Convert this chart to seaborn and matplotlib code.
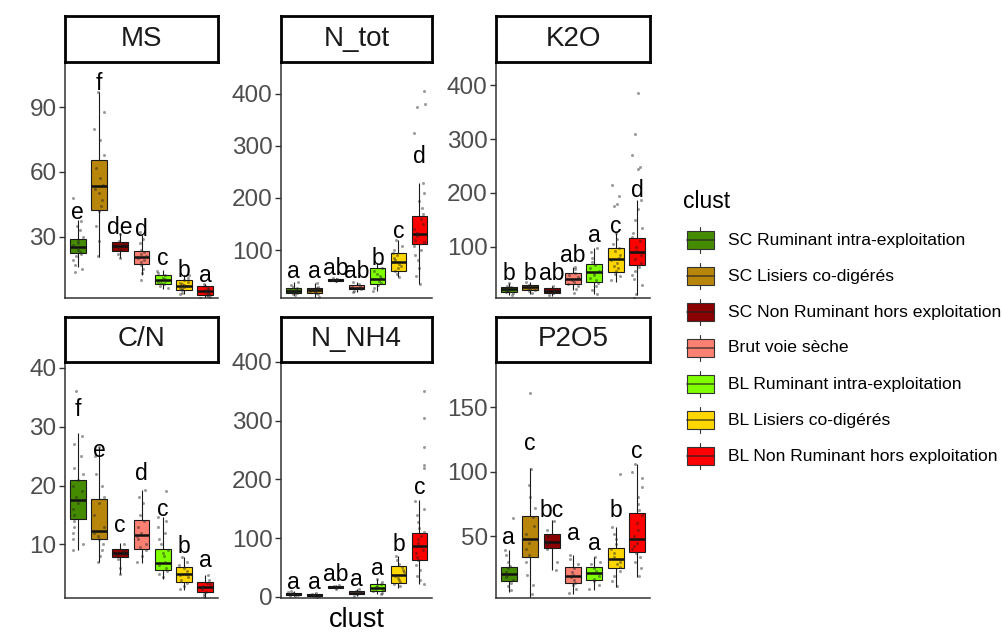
import numpy as np
import pandas as pd
import matplotlib
matplotlib.use("Agg")
import matplotlib.pyplot as plt
from matplotlib.patches import Rectangle
import seaborn as sns

sns.set_theme(style="white")
plt.rcParams['font.family'] = ['Liberation Sans', 'DejaVu Sans']

clusters = ["SC Ruminant intra-exploitation", "SC Lisiers co-digérés",
            "SC Non Ruminant hors exploitation", "Brut voie sèche",
            "BL Ruminant intra-exploitation", "BL Lisiers co-digérés",
            "BL Non Ruminant hors exploitation"]
colors = ["#458B00", "#B8860B", "#8B0000", "#FA8072", "#7FFF00", "#FFD700", "#FF0000"]

variables = ["MS", "N_tot", "K2O", "C/N", "N_NH4", "P2O5"]

# box summaries per group: [low whisker, q1, median, q3, high whisker]
MS_box = [[16, 22.2, 25.3, 28.7, 37.8], [20.6, 42.2, 53.4, 65.4, 97], [20, 23.5, 25.6, 27.7, 31.5],
          [12, 17.5, 20.6, 23.5, 30.8], [5.8, 7.9, 9.8, 12, 14.4], [3.5, 5, 7.1, 9.7, 12],
          [1.5, 2.7, 4.6, 6.9, 8]]
NTOT_box = [[13, 17, 22, 28, 38], [7, 17, 23, 28, 36], [39, 41, 43, 44, 46], [20, 24.5, 28, 32.6, 38],
            [22, 35.8, 45, 64.7, 75], [49, 60, 77.5, 93.6, 119], [35, 111, 130, 165, 228]]
K2O_box = [[10, 16.5, 21, 26, 32], [12, 20, 24.5, 29, 35], [9, 13.4, 18, 22.7, 27],
           [20, 30.7, 41, 50.5, 63], [13, 35, 53.6, 69, 97], [35, 53.6, 78, 97, 125],
           [10, 66, 90.7, 115.5, 186.6]]
CN_box = [[9, 14.4, 17.6, 21, 29], [7, 11, 12.2, 17.8, 26.6], [5, 7.8, 8.5, 9.3, 10.2],
          [6.8, 9.3, 11.6, 14.1, 19.3], [4.2, 5.6, 6.8, 9.3, 14.7], [2.2, 3.6, 4.9, 6.2, 7.9],
          [0.8, 1.9, 2.7, 3.6, 4.8]]
NH4_box = [[1, 3, 5, 7, 10], [0.5, 1, 2.5, 4.5, 6], [14, 15.7, 17, 18.5, 20], [2, 4.5, 7, 10, 14],
           [4, 10, 15, 21, 30], [15.7, 24, 38, 52, 69], [21, 63.5, 86, 108, 164.6]]
P2O5_box = [[6.7, 15.3, 20.5, 26, 39], [1.5, 34, 47.4, 65.5, 102.6], [23.6, 40.4, 45.6, 52, 62.4],
            [5.4, 13.7, 19, 26, 35], [8, 15.8, 21.5, 26, 34], [10.6, 24.9, 31.9, 40.4, 57],
            [18.4, 37.8, 48, 67.6, 106]]

# individual observations (approximate readings)
MS_pts = [[48, 37, 35, 33, 30, 28, 27, 26, 25, 24, 23, 22, 21, 19, 17, 15, 13.5],
          [97, 88, 80, 75, 68, 62, 57, 54, 52, 50, 47, 44, 42, 35, 28, 21],
          [31, 28, 27, 26, 25, 24, 22, 20],
          [32, 29, 27, 24, 23, 22, 21, 20, 19, 18, 17, 15, 13, 10],
          [14, 13, 12, 11, 10.5, 10, 9.5, 9, 8.5, 8, 7, 6],
          [12, 11, 10, 9, 8.5, 8, 7.5, 7, 6.5, 6, 5.5, 5, 4, 3.5],
          [8, 7, 6, 5.5, 5, 4.5, 4, 3.5, 3, 2.5, 2, 1.5]]
NTOT_pts = [[38, 33, 30, 27, 25, 23, 22, 21, 20, 18, 16, 14],
            [36, 30, 28, 26, 24, 23, 22, 20, 18, 15, 10, 7],
            [46, 44, 43, 42, 40],
            [38, 34, 31, 29, 28, 27, 25, 22, 20],
            [75, 66, 60, 55, 50, 46, 44, 40, 37, 33, 28, 22],
            [119, 108, 100, 95, 90, 85, 80, 77, 74, 70, 65, 60, 55, 49],
            [405, 380, 375, 325, 228, 210, 195, 180, 170, 160, 150, 140, 133, 127, 120, 115, 108,
             100, 90, 80, 65, 50, 35]]
K2O_pts = [[32, 28, 25, 23, 21, 20, 18, 16, 14, 11],
           [35, 30, 27, 25, 24, 22, 20, 18, 14],
           [27, 22, 20, 18, 16, 14, 11],
           [63, 58, 52, 48, 44, 41, 38, 35, 31, 27, 22, 15],
           [97, 90, 80, 72, 66, 60, 56, 52, 48, 43, 38, 33, 27, 20, 13],
           [215, 195, 180, 175, 125, 115, 105, 98, 92, 85, 80, 75, 70, 65, 60, 55, 50, 45, 38],
           [385, 310, 270, 248, 245, 186, 170, 150, 135, 125, 118, 110, 100, 92, 85, 78, 70, 62,
            55, 48, 40, 30, 12, 5]]
CN_pts = [[36, 28.5, 27, 25, 23, 22, 21, 20, 19, 18, 17.5, 17, 16, 15, 14, 13, 12, 11, 10, 9],
          [26.6, 25, 22, 20, 18, 17, 15, 13, 12, 11.5, 11, 10, 9, 8, 7],
          [10, 9, 8.7, 8.3, 8, 7.5, 6, 5],
          [19.3, 18, 17, 15, 14, 13, 12, 11.5, 11, 10, 9.5, 9, 8, 7],
          [19, 14.7, 14, 13, 12, 11, 10, 9, 8.5, 8, 7, 6.5, 6, 5.5, 5, 4.5],
          [7.9, 7, 6.5, 6, 5.5, 5, 4.8, 4.5, 4, 3.5, 3, 2.5],
          [4.8, 4, 3.5, 3.2, 3, 2.7, 2.4, 2, 1.6, 1.2, 0.8]]
NH4_pts = [[10, 8, 6, 5, 4, 3, 2, 1],
           [6, 4, 3, 2, 1, 0.5],
           [20, 18, 17, 16, 14],
           [14, 10, 8, 7, 6, 4, 2],
           [30, 25, 21, 18, 16, 14, 12, 10, 7, 4],
           [69, 62, 56, 50, 45, 42, 38, 35, 32, 28, 25, 22, 18],
           [350, 305, 255, 225, 220, 164, 150, 140, 128, 118, 110, 104, 98, 92, 86, 80, 75, 68,
            62, 55, 45, 35, 28, 21]]
P2O5_pts = [[64, 39, 35, 30, 27, 25, 22, 20, 18, 16, 14, 11, 8],
            [161, 102, 90, 80, 72, 65, 58, 52, 48, 45, 40, 35, 30, 20, 12, 5],
            [62, 55, 50, 46, 44, 40, 30, 24],
            [35, 32, 28, 25, 22, 20, 18, 16, 14, 12, 9, 6],
            [34, 30, 28, 25, 23, 21, 19, 17, 15, 12, 9],
            [98, 57, 52, 48, 44, 40, 37, 34, 32, 30, 28, 26, 23, 19, 15, 11],
            [106, 100, 95, 88, 80, 75, 70, 66, 60, 55, 50, 48, 45, 42, 40, 37, 34, 30, 25, 19]]

# significance letters and their heights
MS_let = ["e", "f", "de", "d", "c", "b", "a"]
MS_let_y = [41, 101, 34, 33.4, 20, 14.4, 12]
NTOT_let = ["a", "a", "ab", "ab", "b", "c", "d"]
NTOT_let_y = [58, 58, 64, 58, 84, 135, 280]
K2O_let = ["b", "b", "ab", "ab", "a", "c", "d"]
K2O_let_y = [50.5, 50.5, 50.5, 84.5, 121.6, 137, 205]
CN_let = ["f", "e", "c", "d", "c", "b", "a"]
CN_let_y = [32.9, 26, 13.3, 22.1, 15.9, 9.6, 7.3]
NH4_let = ["a", "a", "ab", "a", "a", "b", "c"]
NH4_let_y = [25, 25, 38, 30, 49, 89, 187]
P2O5_let = ["a", "c", "bc", "a", "a", "b", "c"]
P2O5_let_y = [49, 122, 70, 52, 44, 70, 115.5]

# y-axis settings
ylims = {"MS": (1.5, 111), "N_tot": (8, 461), "K2O": (5, 443),
         "C/N": (0.9, 41), "N_NH4": (-2, 400), "P2O5": (2, 185)}
yticks = {"MS": [30, 60, 90], "N_tot": [100, 200, 300, 400], "K2O": [100, 200, 300, 400],
          "C/N": [10, 20, 30, 40], "N_NH4": [0, 100, 200, 300, 400], "P2O5": [50, 100, 150]}

boxes = {"MS": MS_box, "N_tot": NTOT_box, "K2O": K2O_box, "C/N": CN_box, "N_NH4": NH4_box, "P2O5": P2O5_box}
pts = {"MS": MS_pts, "N_tot": NTOT_pts, "K2O": K2O_pts, "C/N": CN_pts, "N_NH4": NH4_pts, "P2O5": P2O5_pts}
lets = {"MS": (MS_let, MS_let_y), "N_tot": (NTOT_let, NTOT_let_y), "K2O": (K2O_let, K2O_let_y),
        "C/N": (CN_let, CN_let_y), "N_NH4": (NH4_let, NH4_let_y), "P2O5": (P2O5_let, P2O5_let_y)}

W, H = 1003, 633
fig = plt.figure(figsize=(W / 100, H / 100), dpi=100)
fig.patch.set_facecolor("white")

cols_px = [(65, 218), (281, 432), (496, 650)]
rows_px = [(62, 298), (362, 598)]
strip_px = [(16, 62), (317, 362)]

np.random.seed(7)
pal = dict(zip(clusters, colors))

for i, var in enumerate(variables):
    r, c = divmod(i, 3)
    l, rr = cols_px[c]
    t, b = rows_px[r]
    ax = fig.add_axes([l / W, 1 - b / H, (rr - l) / W, (b - t) / H])
    dfb = pd.DataFrame([(cl, v) for cl, vals in zip(clusters, boxes[var]) for v in vals],
                       columns=["clust", "value"])
    dfp = pd.DataFrame([(cl, v) for cl, vals in zip(clusters, pts[var]) for v in vals],
                       columns=["clust", "value"])
    sns.boxplot(data=dfb, x="clust", y="value", hue="clust", order=clusters, hue_order=clusters,
                palette=pal, saturation=1, whis=(0, 100), showfliers=False, width=0.75, dodge=False,
                linecolor="#1a1a1a", linewidth=0.8, legend=False,
                medianprops={"linewidth": 1.8, "color": "#111111"},
                capprops={"linewidth": 0}, ax=ax)
    sns.stripplot(data=dfp, x="clust", y="value", order=clusters, color="#222222",
                  alpha=0.45, size=2.2, jitter=0.25, linewidth=0, ax=ax, zorder=5)
    labs, ly = lets[var]
    for k, (s, yv) in enumerate(zip(labs, ly)):
        ax.text(k, yv, s, ha="center", va="center", fontsize=16.5, color="black", zorder=6)
    ax.set_xlim(-0.6, 6.6)
    ax.set_ylim(*ylims[var])
    ax.set_yticks(yticks[var])
    ax.set_xticks([])
    ax.set_xlabel("")
    ax.set_ylabel("")
    for sp in ["top", "right"]:
        ax.spines[sp].set_visible(False)
    for sp in ["left", "bottom"]:
        ax.spines[sp].set_color("#333333")
        ax.spines[sp].set_linewidth(1.1)
    ax.tick_params(axis="y", which="major", length=4, width=1, color="#333333",
                   labelsize=17.5, labelcolor="#4D4D4D", pad=2, left=True)
    ax.set_facecolor("white")
    # strip
    st, sb = strip_px[r]
    sax = fig.add_axes([l / W, 1 - sb / H, (rr - l) / W, (sb - st) / H])
    sax.set_xticks([]); sax.set_yticks([])
    for sp in sax.spines.values():
        sp.set_linewidth(2.0)
        sp.set_color("black")
    sax.set_facecolor("white")
    sax.text(0.5, 0.5, var, ha="center", va="center", fontsize=20, color="#1a1a1a",
             transform=sax.transAxes)

fig.text(357 / W, 1 - 620 / H, "clust", ha="center", va="center", fontsize=19.5, color="black")

# legend
lax = fig.add_axes([0, 0, 1, 1])
lax.set_xlim(0, W)
lax.set_ylim(H, 0)
lax.axis("off")
lax.patch.set_alpha(0)
lax.text(683, 202, "clust", ha="left", va="center", fontsize=16.5, color="black")
key_y = [240, 276, 312, 348, 384, 420, 456]
for cy, cl, colr in zip(key_y, clusters, colors):
    lax.plot([700.5, 700.5], [cy - 13, cy + 13], color="#333333", lw=0.8, zorder=1)
    lax.add_patch(Rectangle((687, cy - 9), 27, 18, facecolor=colr, edgecolor="#333333",
                            lw=0.8, zorder=2))
    lax.plot([687, 714], [cy, cy], color="#222222", lw=1.4, alpha=0.6, zorder=3)
    lax.text(728, cy, cl, ha="left", va="center", fontsize=12.6, color="black")

fig.savefig("out.png", dpi=100, facecolor="white")
